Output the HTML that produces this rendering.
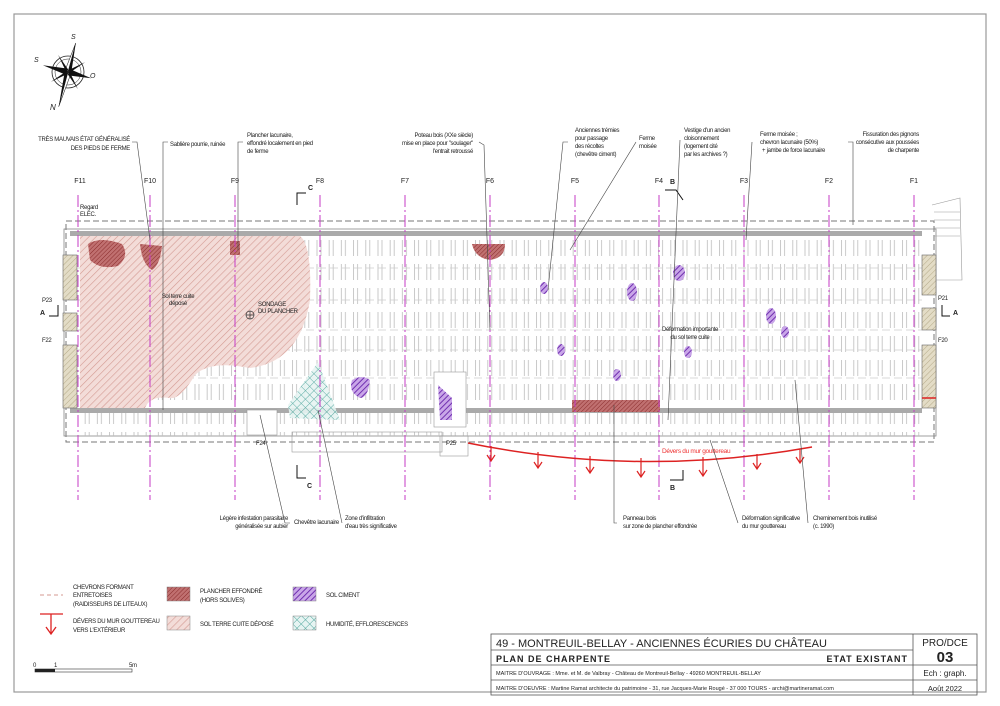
<!DOCTYPE html>
<html><head><meta charset="utf-8"><style>
body{margin:0;background:#fff}
svg{display:block}
text{font-family:"Liberation Sans Narrow","Liberation Sans",sans-serif;fill:#222}
.n{letter-spacing:-0.3px}
</style></head><body>
<svg width="1000" height="706" viewBox="0 0 1000 706" xmlns="http://www.w3.org/2000/svg">
<defs>
<pattern id="terre" width="5" height="5" patternUnits="userSpaceOnUse" patternTransform="rotate(45)">
<rect width="5" height="5" fill="#f3dcd8"/><line x1="0" y1="0" x2="0" y2="5" stroke="#d49a92" stroke-width="1.2"/></pattern>
<pattern id="eff" width="3" height="3" patternUnits="userSpaceOnUse" patternTransform="rotate(45)">
<rect width="3" height="3" fill="#c07070"/><line x1="0" y1="0" x2="0" y2="3" stroke="#8a2c2c" stroke-width="1"/></pattern>
<pattern id="ciment" width="4" height="4" patternUnits="userSpaceOnUse" patternTransform="rotate(45)">
<rect width="4" height="4" fill="#c9a6e8"/><line x1="0" y1="0" x2="0" y2="4" stroke="#7030b0" stroke-width="2"/></pattern>
<pattern id="hum" width="6" height="6" patternUnits="userSpaceOnUse" patternTransform="rotate(45)">
<rect width="6" height="6" fill="#e6f4f2"/><path d="M0 0V6M0 0H6" stroke="#4aa39a" stroke-width="1"/></pattern>
<pattern id="raft" x="70" y="0" width="12.2" height="24" patternUnits="userSpaceOnUse">
<path d="M3 0V16M7 0V16" stroke="#bdbdbd" stroke-width="0.8"/></pattern>
<pattern id="wall" width="4" height="4" patternUnits="userSpaceOnUse" patternTransform="rotate(45)">
<rect width="4" height="4" fill="#e3dcc6"/><line x1="0" y1="0" x2="0" y2="4" stroke="#a89c78" stroke-width="0.8"/></pattern>
</defs>

<rect x="14" y="14" width="972" height="678" fill="none" stroke="#999" stroke-width="1.2"/>

<g transform="translate(68,72)">
<circle r="16" fill="none" stroke="#222" stroke-width="0.8"/>
<circle r="13" fill="none" stroke="#222" stroke-width="0.5"/>
<polygon points="0,-30 3,-3 0,0" fill="#111" transform="rotate(15)"/>
<polygon points="0,-30 -3,-3 0,0" fill="#fff" stroke="#111" stroke-width="0.5" transform="rotate(15)"/>
<polygon points="0,36 3,3 0,0" fill="#fff" stroke="#111" stroke-width="0.5" transform="rotate(15)"/>
<polygon points="0,36 -3,3 0,0" fill="#111" transform="rotate(15)"/>
<polygon points="-26,0 -3,-3 0,0 -3,3" fill="#111" transform="rotate(15)"/>
<polygon points="24,0 3,-3 0,0 3,3" fill="#111" transform="rotate(15)"/>
<polygon points="-14,-14 0,-2 -2,0" fill="#111" transform="rotate(15)"/>
<polygon points="14,-14 0,-2 2,0" fill="#111" transform="rotate(15)"/>
<polygon points="-14,14 0,2 -2,0" fill="#111" transform="rotate(15)"/>
<polygon points="14,14 0,2 2,0" fill="#111" transform="rotate(15)"/>
<text x="3" y="-33" font-size="7" font-style="italic">S</text>
<text x="-34" y="-10" font-size="7" font-style="italic">S</text>
<text x="22" y="6" font-size="7" font-style="italic">O</text>
<text x="-18" y="38" font-size="8" font-style="italic">N</text>
</g>

<rect x="66" y="221" width="868" height="221" fill="none" stroke="#777" stroke-width="1" stroke-dasharray="6,3"/>
<rect x="64" y="229" width="872" height="207" fill="none" stroke="#888" stroke-width="0.8"/>
<rect x="78" y="236" width="844" height="200" fill="url(#raft)"/>
<g stroke="#ccc" stroke-width="0.8" stroke-dasharray="8,4">
<line x1="78" y1="268" x2="922" y2="268"/><line x1="78" y1="300" x2="922" y2="300"/>
<line x1="78" y1="330" x2="922" y2="330"/><line x1="78" y1="350" x2="922" y2="350"/>
<line x1="78" y1="378" x2="922" y2="378"/>
</g>
<path d="M80 236 L300 236 Q312 245 310 300 Q300 362 250 368 Q210 360 195 375 Q180 400 170 398 Q150 395 145 408 L80 410 Z" fill="url(#terre)"/>
<rect x="70" y="231" width="852" height="5" fill="#aaa"/>
<rect x="70" y="408" width="852" height="5" fill="#aaa"/>
<rect x="63" y="255" width="14" height="45" fill="url(#wall)" stroke="#666" stroke-width="0.6"/>
<rect x="63" y="313" width="14" height="18" fill="url(#wall)" stroke="#666" stroke-width="0.6"/>
<rect x="63" y="345" width="14" height="63" fill="url(#wall)" stroke="#666" stroke-width="0.6"/>
<rect x="922" y="255" width="14" height="40" fill="url(#wall)" stroke="#666" stroke-width="0.6"/>
<rect x="922" y="308" width="14" height="22" fill="url(#wall)" stroke="#666" stroke-width="0.6"/>
<rect x="922" y="345" width="14" height="63" fill="url(#wall)" stroke="#666" stroke-width="0.6"/>
<line x1="922" y1="398" x2="936" y2="398" stroke="#d22" stroke-width="1.5"/>
<g stroke="#999" stroke-width="0.6" fill="none"><path d="M932 205 L960 198 L962 280 L936 280"/><path d="M934 212H960M934 220H960M934 228H960M934 236H960"/></g>
<g stroke="#999" stroke-width="0.6" fill="none">
<rect x="292" y="432" width="150" height="20"/><rect x="440" y="436" width="28" height="20"/>
<rect x="247" y="410" width="30" height="25" fill="#fff"/><rect x="434" y="372" width="32" height="55" fill="#fff"/>
</g>
<path d="M88 244 Q100 236 122 244 Q130 256 118 266 Q100 270 90 260Z" fill="url(#eff)"/>
<path d="M140 244 L162 246 Q160 265 152 270 Q142 264 140 244Z" fill="url(#eff)"/>
<rect x="230" y="241" width="10" height="14" fill="url(#eff)"/>
<path d="M472 244 L505 244 Q505 258 490 260 Q475 258 472 244Z" fill="url(#eff)"/>
<rect x="572" y="400" width="88" height="12" fill="url(#eff)"/>
<path d="M318 362 L340 420 L290 418 L288 405 Z" fill="url(#hum)" opacity="0.9"/>
<g fill="url(#ciment)">
<path d="M352 380 Q362 374 370 380 Q368 398 360 398 Q348 392 352 380Z"/>
<path d="M438 385 L452 398 L452 420 L440 420Z"/>
<ellipse cx="544" cy="288" rx="4" ry="6"/><ellipse cx="632" cy="292" rx="5" ry="9"/>
<ellipse cx="679" cy="273" rx="6" ry="8"/><ellipse cx="771" cy="316" rx="5" ry="8"/>
<ellipse cx="785" cy="332" rx="4" ry="6"/><ellipse cx="561" cy="350" rx="4" ry="6"/>
<ellipse cx="617" cy="375" rx="4" ry="6"/><ellipse cx="688" cy="352" rx="4" ry="6"/>
</g>
<g stroke="#c43bc4" stroke-width="1" stroke-dasharray="12,3,2,3">
<line x1="78" y1="195" x2="78" y2="500"/><line x1="150" y1="195" x2="150" y2="500"/>
<line x1="235" y1="195" x2="235" y2="500"/><line x1="320" y1="195" x2="320" y2="500"/>
<line x1="405" y1="195" x2="405" y2="500"/><line x1="490" y1="195" x2="490" y2="500"/>
<line x1="575" y1="195" x2="575" y2="500"/><line x1="659" y1="195" x2="659" y2="500"/>
<line x1="744" y1="195" x2="744" y2="500"/><line x1="829" y1="195" x2="829" y2="500"/>
<line x1="914" y1="195" x2="914" y2="500"/>
</g>
<g font-size="7" text-anchor="middle">
<text x="80" y="183">F11</text><text x="150" y="183">F10</text><text x="235" y="183">F9</text>
<text x="320" y="183">F8</text><text x="405" y="183">F7</text><text x="490" y="183">F6</text>
<text x="575" y="183">F5</text><text x="659" y="183">F4</text><text x="744" y="183">F3</text>
<text x="829" y="183">F2</text><text x="914" y="183">F1</text>
</g>
<g stroke="#111" stroke-width="1" fill="none">
<path d="M297 205V193H306"/><path d="M683 200L676 190H665"/><path d="M297 465V478H306"/><path d="M683 470V480H670"/>
<path d="M49 316H58V305"/><path d="M950 316H942V305"/>
</g>
<g font-size="7" font-weight="bold" font-family="Liberation Sans">
<text x="308" y="190">C</text><text x="670" y="184">B</text><text x="307" y="488">C</text><text x="670" y="490">B</text>
<text x="40" y="315">A</text><text x="953" y="315">A</text>
</g>
<g font-size="6" class="n">
<text x="42" y="302">P23</text><text x="42" y="342">F22</text><text x="938" y="300">P21</text><text x="938" y="342">F20</text>
<text x="256" y="445">F24</text><text x="446" y="445">P25</text>
<text x="80" y="209">Regard</text><text x="80" y="216">ELEC.</text>
<text x="178" y="298" text-anchor="middle">Sol terre cuite</text><text x="178" y="305" text-anchor="middle">déposé</text>
<text x="258" y="306">SONDAGE</text><text x="258" y="313">DU PLANCHER</text>
<text x="690" y="331" text-anchor="middle">Déformation importante</text><text x="690" y="339" text-anchor="middle">du sol terre cuite</text>
</g>
<circle cx="250" cy="315" r="4" fill="none" stroke="#333" stroke-width="0.7"/>
<path d="M246 315H254M250 311V319" stroke="#333" stroke-width="0.7"/>

<path d="M468 443 Q640 478 812 447" fill="none" stroke="#d22" stroke-width="1.5"/>
<g stroke="#d22" stroke-width="1.2" fill="none">
<path d="M491 446V460M487 455L491 461L495 455"/><path d="M538 452V467M534 462L538 468L542 462"/>
<path d="M590 456V472M586 467L590 473L594 467"/><path d="M641 458V476M637 471L641 477L645 471"/>
<path d="M703 457V475M699 470L703 476L707 470"/><path d="M757 454V468M753 463L757 469L761 463"/>
<path d="M800 449V462M796 457L800 463L804 457"/>
</g>
<text x="662" y="453" font-size="6.5" class="n" style="fill:#e33">Dévers du mur gouttereau</text>

<g stroke="#444" stroke-width="0.6" fill="none">
<path d="M132 142H137L150 240"/><path d="M168 142H163V410"/><path d="M243 142H238V250"/>
<path d="M479 142L484 145L490 330"/><path d="M568 142H563L548 290"/><path d="M636 142L570 250"/>
<path d="M680 140L668 420"/><path d="M752 142L746 240"/><path d="M848 142H853V225"/>
<path d="M290 523H285L260 415"/><path d="M342 523L318 410"/><path d="M617 523H614V405"/>
<path d="M738 523L710 440"/><path d="M808 523L795 380"/>
</g>
<g font-size="6" class="n">
<text x="130" y="141" text-anchor="end">TRÈS MAUVAIS ÉTAT GÉNÉRALISÉ</text>
<text x="130" y="150" text-anchor="end">DES PIEDS DE FERME</text>
<text x="170" y="146">Sablière pourrie, ruinée</text>
<text x="247" y="137">Plancher lacunaire,</text><text x="247" y="145">effondré localement en pied</text><text x="247" y="153">de ferme</text>
<text x="473" y="137" text-anchor="end">Poteau bois (XXe siècle)</text><text x="473" y="145" text-anchor="end">mise en place pour "soulager"</text><text x="473" y="153" text-anchor="end">l'entrait retroussé</text>
<text x="575" y="132">Anciennes trémies</text><text x="575" y="140">pour passage</text><text x="575" y="148">des récoltes</text><text x="575" y="156">(chevêtre ciment)</text>
<text x="639" y="140">Ferme</text><text x="639" y="148">moisée</text>
<text x="684" y="132">Vestige d'un ancien</text><text x="684" y="140">cloisonnement</text><text x="684" y="148">(logement cité</text><text x="684" y="156">par les archives ?)</text>
<text x="760" y="136">Ferme moisée ;</text><text x="760" y="144">chevron lacunaire (50%)</text><text x="762" y="152">+ jambe de force lacunaire</text>
<text x="919" y="136" text-anchor="end">Fissuration des pignons</text><text x="919" y="144" text-anchor="end">consécutive aux poussées</text><text x="919" y="152" text-anchor="end">de charpente</text>
<text x="288" y="520" text-anchor="end">Légère infestation parasitaire</text><text x="288" y="528" text-anchor="end">généralisée sur aubier</text>
<text x="294" y="524">Chevêtre lacunaire</text>
<text x="345" y="520">Zone d'infiltration</text><text x="345" y="528">d'eau très significative</text>
<text x="623" y="520">Panneau bois</text><text x="623" y="528">sur zone de plancher effondrée</text>
<text x="742" y="520">Déformation significative</text><text x="742" y="528">du mur gouttereau</text>
<text x="813" y="520">Cheminement bois inutilisé</text><text x="813" y="528">(c. 1990)</text>
</g>

<line x1="40" y1="595" x2="63" y2="595" stroke="#d49a92" stroke-width="1" stroke-dasharray="4,3"/>
<g font-size="6" class="n">
<text x="73" y="589">CHEVRONS FORMANT</text><text x="73" y="597">ENTRETOISES</text><text x="73" y="606">(RAIDISSEURS DE LITEAUX)</text>
<text x="73" y="623">DÉVERS DU MUR GOUTTEREAU</text><text x="73" y="632">VERS L'EXTÉRIEUR</text>
<text x="200" y="593">PLANCHER EFFONDRÉ</text><text x="200" y="602">(HORS SOLIVES)</text>
<text x="200" y="626">SOL TERRE CUITE DÉPOSÉ</text>
<text x="326" y="597">SOL CIMENT</text>
<text x="326" y="626">HUMIDITÉ, EFFLORESCENCES</text>
<text x="33" y="667">0</text><text x="54" y="667">1</text><text x="129" y="667">5m</text>
</g>
<g stroke="#d22" stroke-width="1.3" fill="none"><path d="M40 614H63M51 614V633M46 627L51 634L56 627"/></g>
<rect x="167" y="587" width="23" height="14" fill="url(#eff)" stroke="#888" stroke-width="0.5"/>
<rect x="167" y="616" width="23" height="14" fill="url(#terre)" stroke="#888" stroke-width="0.5"/>
<rect x="293" y="587" width="23" height="14" fill="url(#ciment)" stroke="#888" stroke-width="0.5"/>
<rect x="293" y="616" width="23" height="14" fill="url(#hum)" stroke="#888" stroke-width="0.5"/>
<rect x="35" y="669" width="97" height="3" fill="none" stroke="#333" stroke-width="0.6"/>
<rect x="35" y="669" width="20" height="3" fill="#222"/>

<g stroke="#555" stroke-width="0.8" fill="none">
<rect x="491" y="634" width="486" height="61"/>
<line x1="491" y1="650" x2="913" y2="650"/><line x1="491" y1="665" x2="977" y2="665"/>
<line x1="491" y1="680" x2="977" y2="680"/><line x1="913" y1="634" x2="913" y2="695"/>
</g>
<text x="496" y="647" font-size="11" font-family="Liberation Sans">49 - MONTREUIL-BELLAY - ANCIENNES ÉCURIES DU CHÂTEAU</text>
<text x="496" y="662" font-size="9" font-weight="bold" font-family="Liberation Sans" letter-spacing="1">PLAN DE CHARPENTE</text>
<text x="908" y="662" font-size="9" font-weight="bold" font-family="Liberation Sans" letter-spacing="1" text-anchor="end">ETAT EXISTANT</text>
<text x="496" y="675" font-size="5.5" font-family="Liberation Sans">MAITRE D'OUVRAGE :   Mme. et M. de Valbray - Château de Montreuil-Bellay - 49260 MONTREUIL-BELLAY</text>
<text x="496" y="690" font-size="5.5" font-family="Liberation Sans">MAITRE D'OEUVRE :       Martine Ramat architecte du patrimoine - 31, rue Jacques-Marie Rougé - 37 000 TOURS - archi@martineramat.com</text>
<text x="945" y="646" font-size="10" font-family="Liberation Sans" text-anchor="middle">PRO/DCE</text>
<text x="945" y="662" font-size="15" font-weight="bold" font-family="Liberation Sans" text-anchor="middle">03</text>
<text x="945" y="676" font-size="8" font-family="Liberation Sans" text-anchor="middle">Ech : graph.</text>
<text x="945" y="691" font-size="7.5" font-family="Liberation Sans" text-anchor="middle">Août 2022</text>
</svg>
</body></html>
